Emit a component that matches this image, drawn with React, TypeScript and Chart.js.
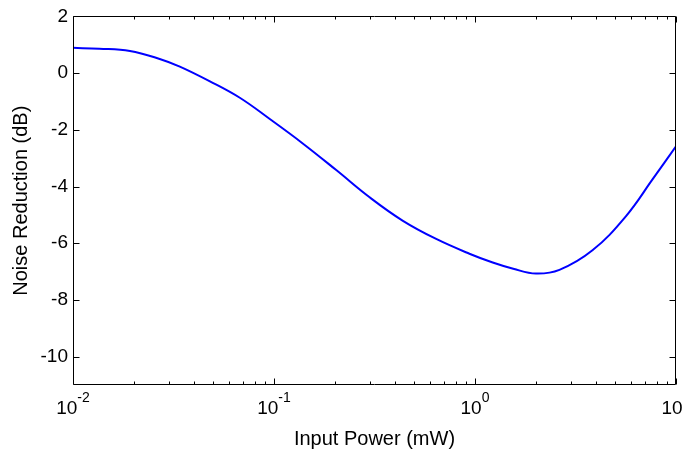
import { useEffect, useRef } from "react";
import { Chart, registerables } from "chart.js";

Chart.register(...registerables);

// Input power (mW) and noise reduction (dB)
const X_VALUES = [0.01, 0.0135, 0.0192, 0.027, 0.034, 0.048, 0.0676, 0.0953, 0.139, 0.204, 0.299, 0.438, 0.641, 0.938, 1.225, 1.55, 2.01, 2.63, 3.84, 5.63, 7.64, 10];
const Y_VALUES = [0.89, 0.86, 0.78, 0.5, 0.23, -0.29, -0.87, -1.62, -2.48, -3.42, -4.38, -5.21, -5.85, -6.37, -6.68, -6.9, -7.07, -6.94, -6.25, -5.05, -3.75, -2.58];

const X_MAJOR_TICKS = [0.01, 0.1, 1, 10];
const X_TICK_BASES = ["10", "10", "10", "10"];
const X_TICK_EXPONENTS = ["-2", "-1", "0", "1"];
const X_MINOR_MULTIPLIERS = [2, 3, 4, 5, 6, 7, 8, 9];
const Y_TICKS = [-10, -8, -6, -4, -2, 0, 2];

const X_MIN = 0.01;
const X_MAX = 10;
const Y_MIN = -11;
const Y_MAX = 2;

const X_TITLE = "Input Power (mW)";
const Y_TITLE = "Noise Reduction (dB)";

const FONT = "'Liberation Sans', Arial, sans-serif";

const matlabAxes = {
  id: "matlabAxes",
  afterDraw(chart: any) {
    const { ctx, chartArea: a, scales } = chart;
    const xs = scales.x;
    const ys = scales.y;
    const L = Math.round(a.left) + 0.5;
    const R = Math.round(a.right) - 0.5;
    const T = Math.round(a.top) + 0.5;
    const B = Math.round(a.bottom) - 0.5;
    ctx.save();
    ctx.strokeStyle = "#000";
    ctx.lineWidth = 1;
    ctx.beginPath();
    ctx.rect(L, T, R - L, B - T);
    ctx.stroke();

    const major = 6;
    const minor = 3;
    ctx.beginPath();
    X_MAJOR_TICKS.forEach((v) => {
      const px = Math.round(xs.getPixelForValue(v)) + 0.5;
      ctx.moveTo(px, B);
      ctx.lineTo(px, B - major);
      ctx.moveTo(px, T);
      ctx.lineTo(px, T + major);
    });
    X_MAJOR_TICKS.forEach((d) => {
      X_MINOR_MULTIPLIERS.forEach((m) => {
        const v = d * m;
        if (v <= X_MIN || v >= X_MAX) return;
        const px = Math.round(xs.getPixelForValue(v)) + 0.5;
        ctx.moveTo(px, B);
        ctx.lineTo(px, B - minor);
        ctx.moveTo(px, T);
        ctx.lineTo(px, T + minor);
      });
    });
    Y_TICKS.forEach((v) => {
      const py = Math.round(ys.getPixelForValue(v)) + 0.5;
      ctx.moveTo(L, py);
      ctx.lineTo(L + major, py);
      ctx.moveTo(R, py);
      ctx.lineTo(R - major, py);
    });
    ctx.stroke();

    // x tick labels with superscript exponents (figure is cropped at the right, as in the source)
    ctx.beginPath();
    ctx.rect(0, 0, 683, chart.height);
    ctx.clip();
    ctx.fillStyle = "#000";
    ctx.textAlign = "left";
    ctx.textBaseline = "alphabetic";
    X_MAJOR_TICKS.forEach((v, i) => {
      const px = xs.getPixelForValue(v);
      ctx.font = `19px ${FONT}`;
      const wb = ctx.measureText(X_TICK_BASES[i]).width;
      ctx.font = `14px ${FONT}`;
      const we = ctx.measureText(X_TICK_EXPONENTS[i]).width;
      const start = px - (wb + we) / 2;
      ctx.font = `19px ${FONT}`;
      ctx.fillText(X_TICK_BASES[i], start, 414);
      ctx.font = `14px ${FONT}`;
      ctx.fillText(X_TICK_EXPONENTS[i], start + wb, 402);
    });
    ctx.restore();
  },
};

export default function App() {
  const canvasRef = useRef<HTMLCanvasElement | null>(null);

  useEffect(() => {
    if (!canvasRef.current) return;
    const chart = new Chart(canvasRef.current, {
      type: "line",
      data: {
        datasets: [
          {
            data: X_VALUES.map((x, i) => ({ x, y: Y_VALUES[i] })),
            borderColor: "#0000ff",
            borderWidth: 2,
            pointRadius: 0,
            fill: false,
            tension: 0.4,
          },
        ],
      },
      options: {
        animation: false,
        responsive: false,
        maintainAspectRatio: false,
        devicePixelRatio: 1,
        layout: { padding: { left: 0, right: 10, top: 11, bottom: 0 } },
        plugins: {
          legend: { display: false },
          tooltip: { enabled: false },
        },
        scales: {
          x: {
            type: "logarithmic",
            min: X_MIN,
            max: X_MAX,
            ticks: { display: false },
            grid: { display: false },
            border: { display: false },
            title: {
              display: true,
              text: X_TITLE,
              color: "#000",
              font: { family: FONT, size: 20 },
              padding: { top: 0, bottom: 4 },
            },
            afterFit: (s: any) => {
              s.height = 70;
            },
          },
          y: {
            type: "linear",
            min: Y_MIN,
            max: Y_MAX,
            afterBuildTicks: (s: any) => {
              s.ticks = Y_TICKS.map((v) => ({ value: v }));
            },
            ticks: {
              color: "#000",
              font: { family: FONT, size: 19 },
              padding: 5,
            },
            grid: { display: false, drawTicks: false },
            border: { display: false },
            title: {
              display: true,
              text: Y_TITLE,
              color: "#000",
              font: { family: FONT, size: 20 },
              padding: { top: 9, bottom: 0 },
            },
            afterFit: (s: any) => {
              s.width = 73;
            },
          },
        },
      },
      plugins: [matlabAxes],
    });
    return () => chart.destroy();
  }, []);

  return (
    <div style={{ position: "fixed", left: 0, top: 0, width: 686, height: 455, background: "#fff" }}>
      <canvas ref={canvasRef} width={686} height={455} style={{ width: 686, height: 455, display: "block" }} />
    </div>
  );
}
